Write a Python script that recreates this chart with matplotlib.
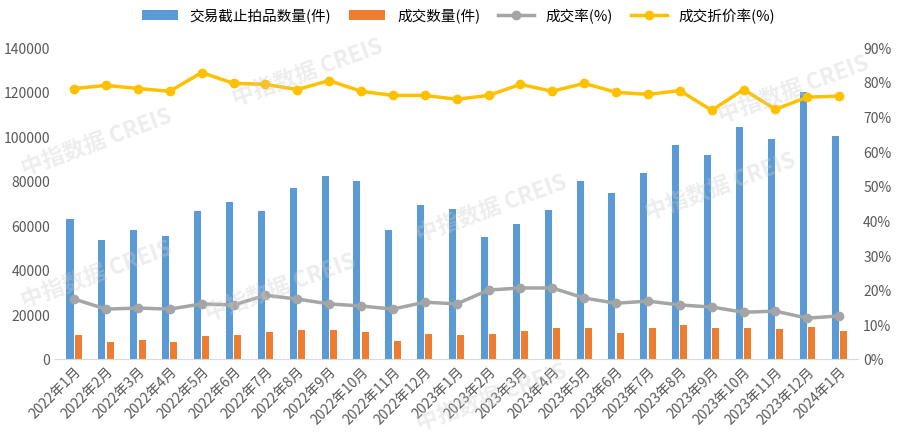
import numpy as np
import matplotlib.pyplot as plt

plt.rcParams['font.family'] = ['Noto Sans CJK SC', 'DejaVu Sans']

months = ['2022年1月', '2022年2月', '2022年3月', '2022年4月', '2022年5月', '2022年6月',
          '2022年7月', '2022年8月', '2022年9月', '2022年10月', '2022年11月', '2022年12月',
          '2023年1月', '2023年2月', '2023年3月', '2023年4月', '2023年5月', '2023年6月',
          '2023年7月', '2023年8月', '2023年9月', '2023年10月', '2023年11月', '2023年12月',
          '2024年1月']
auction = [62800, 53400, 57900, 55200, 66400, 70400, 66400, 76700, 82100, 79900, 57900, 69100,
           67300, 54700, 60600, 66900, 79900, 74500, 83500, 96000, 91500, 104100, 98700, 119800,
           100100]
deals = [10800, 7600, 8500, 7600, 10300, 10800, 12100, 13000, 13000, 12100, 8100, 11200,
         10800, 11200, 12600, 13900, 13900, 11700, 13900, 15300, 13900, 13900, 13500, 14400,
         12600]
deal_rate = [17.3, 14.4, 14.7, 14.4, 15.9, 15.6, 18.4, 17.3, 15.9, 15.3, 14.4, 16.4,
             15.9, 19.9, 20.5, 20.5, 17.6, 16.1, 16.7, 15.6, 15.0, 13.5, 13.8, 11.8, 12.4]
discount_rate = [78.1, 79.0, 78.1, 77.3, 82.7, 79.6, 79.3, 77.8, 80.4, 77.3, 76.1, 76.1,
                 75.0, 76.1, 79.3, 77.3, 79.6, 77.0, 76.4, 77.5, 71.8, 77.8, 72.1, 75.6, 75.9]

fig = plt.figure(figsize=(9.17, 4.39), dpi=100)
ax = fig.add_axes([0.06, 0.18, 0.876, 0.71])
ax2 = ax.twinx()

x = np.arange(len(months))
w = 0.22
b1 = ax.bar(x - 0.13, auction, w, color='#5B9BD5', label='交易截止拍品数量(件)')
b2 = ax.bar(x + 0.13, deals, w, color='#ED7D31', label='成交数量(件)')
l1, = ax2.plot(x, deal_rate, color='#A5A5A5', lw=2.5, marker='o', ms=6, label='成交率(%)')
l2, = ax2.plot(x, discount_rate, color='#FFC000', lw=2.5, marker='o', ms=6, label='成交折价率(%)')

ax.set_ylim(0, 140000)
ax.set_yticks(np.arange(0, 140001, 20000))
ax2.set_ylim(0, 90)
ax2.set_yticks(np.arange(0, 91, 10))
ax2.set_yticklabels([f'{v}%' for v in range(0, 91, 10)])
ax.set_xlim(-0.6, len(months) - 0.4)
ax.set_xticks(x)
ax.set_xticklabels(months, rotation=45, ha='right', rotation_mode='anchor')

for a in (ax, ax2):
    for s in ('top', 'left', 'right'):
        a.spines[s].set_visible(False)
    a.tick_params(length=0, labelsize=10, colors='#595959')
ax.spines['bottom'].set_color('#D9D9D9')
ax2.spines['bottom'].set_visible(False)

fig.legend(handles=[b1, b2, l1, l2], loc='upper center', ncol=4, frameon=False,
           bbox_to_anchor=(0.5, 1.01), fontsize=10.5, handlelength=2.5, columnspacing=1.2)

# watermarks
for wx, wy in [(0.02, 0.3), (0.22, 0.27), (0.45, 0.45), (0.7, 0.5), (0.02, 0.6),
               (0.25, 0.76), (0.78, 0.72), (0.45, 0.02)]:
    fig.text(wx, wy, '中指数据 CREIS', fontsize=16, fontweight='bold', color='#cccccc',
             alpha=0.35, rotation=20)

fig.savefig('out.png', dpi=100)
